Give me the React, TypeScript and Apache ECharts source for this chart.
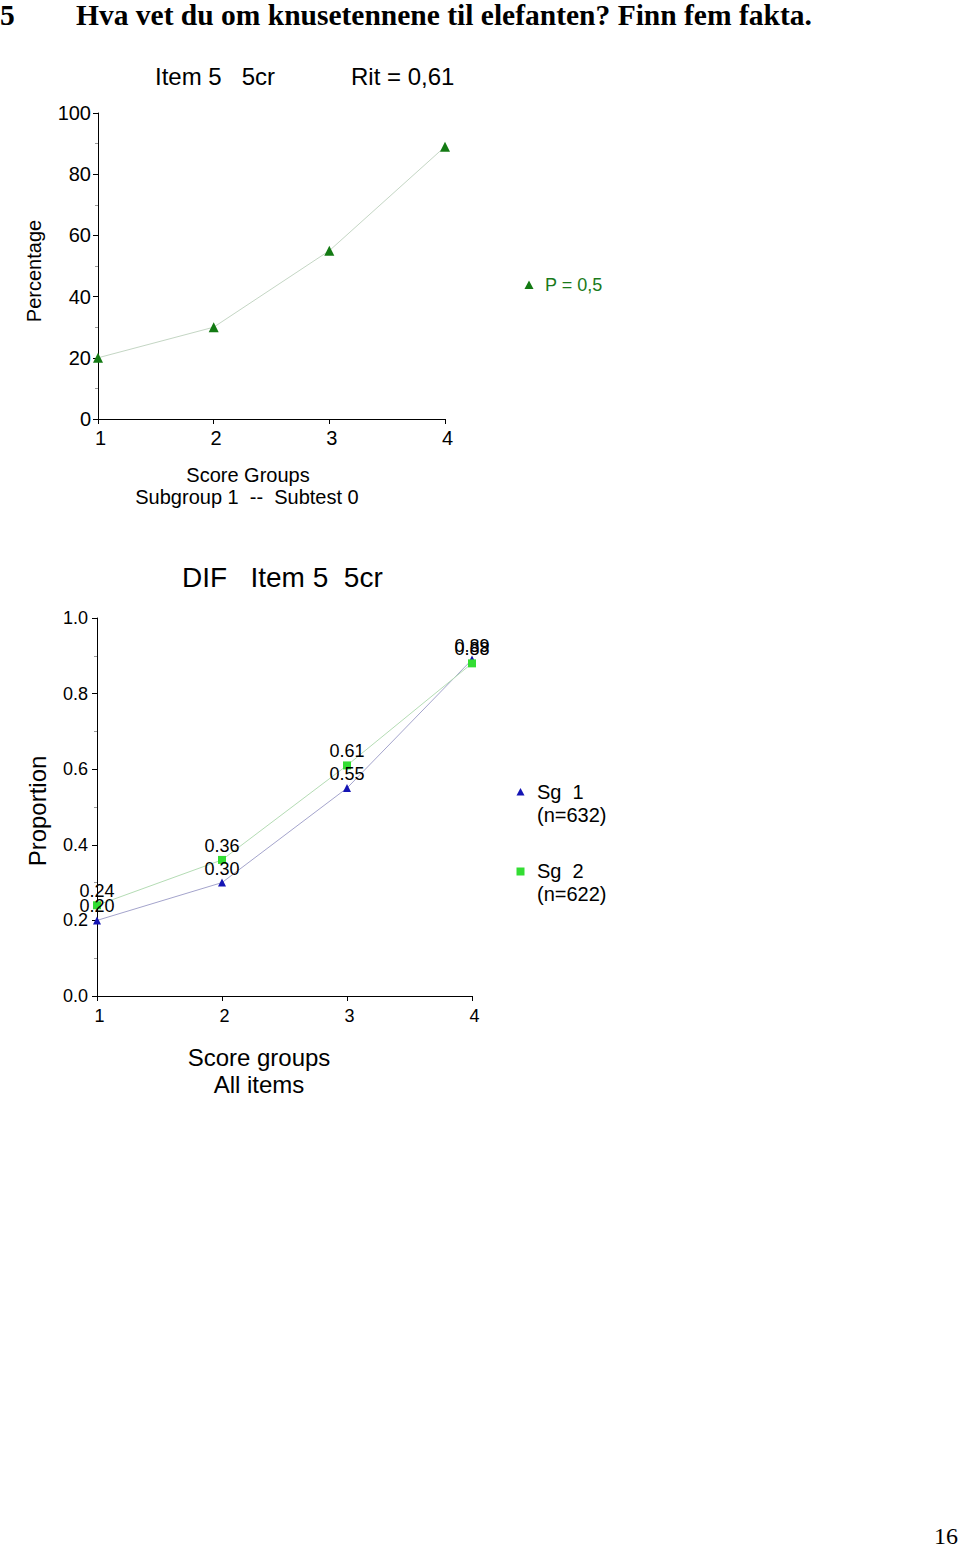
import React, { useEffect, useRef } from "react";
import * as echarts from "echarts";

const scoreGroups = [1, 2, 3, 4];
const percentSg1 = [20, 30, 55, 89];
const propSg1 = [0.2, 0.3, 0.55, 0.89];
const propSg2 = [0.24, 0.36, 0.61, 0.88];
const topYTicks = [0, 20, 40, 60, 80, 100];
const bottomYTicks = [0, 0.2, 0.4, 0.6, 0.8, 1.0];

const SANS = "Liberation Sans, Arial, Helvetica, sans-serif";
const SERIF = "Liberation Serif, Times New Roman, serif";

export default function App() {
  const ref = useRef<HTMLDivElement>(null);
  useEffect(() => {
    if (!ref.current) return;
    const chart = echarts.init(ref.current, undefined, { renderer: "svg" });
    const axisCommon = {
      axisLine: { show: true, lineStyle: { color: "#000", width: 1 } },
      axisTick: { show: true, inside: false, length: 5, lineStyle: { color: "#000" } },
      splitLine: { show: false },
    };
    const pts = (ys: number[]) => scoreGroups.map((x, i) => [x, ys[i]]);
    chart.setOption({
      animation: false,
      backgroundColor: "#fff",
      grid: [
        { left: 98, top: 113, width: 347, height: 306 },
        { left: 97, top: 618, width: 375, height: 378 },
      ],
      xAxis: [
        {
          gridIndex: 0, type: "value", min: 1, max: 4, interval: 1, ...axisCommon,
          axisLabel: { fontFamily: SANS, fontSize: 20, color: "#000", margin: 9, padding: [0, 0, 0, 5] },
        },
        {
          gridIndex: 1, type: "value", min: 1, max: 4, interval: 1, ...axisCommon,
          axisLabel: { fontFamily: SANS, fontSize: 18, color: "#000", margin: 11, padding: [0, 0, 0, 5] },
        },
      ],
      yAxis: [
        {
          gridIndex: 0, type: "value", min: topYTicks[0], max: topYTicks[topYTicks.length - 1], interval: 20, ...axisCommon,
          minorTick: { show: true, splitNumber: 2, length: 3, lineStyle: { color: "#999" } },
          axisLabel: { fontFamily: SANS, fontSize: 20, color: "#000", margin: 7 },
        },
        {
          gridIndex: 1, type: "value", min: bottomYTicks[0], max: bottomYTicks[bottomYTicks.length - 1], interval: 0.2, ...axisCommon,
          minorTick: { show: true, splitNumber: 2, length: 3, lineStyle: { color: "#999" } },
          axisLabel: { fontFamily: SANS, fontSize: 18, color: "#000", margin: 9, formatter: (v: number) => v.toFixed(1) },
        },
      ],
      series: [
        {
          name: "P = 0,5", type: "line", xAxisIndex: 0, yAxisIndex: 0, data: pts(percentSg1), clip: false,
          symbol: "triangle", symbolSize: 10,
          itemStyle: { color: "#137a13" },
          lineStyle: { color: "#c4d6c4", width: 1 },
        },
        {
          name: "Sg 1", type: "line", xAxisIndex: 1, yAxisIndex: 1, data: pts(propSg1), clip: false,
          symbol: "triangle", symbolSize: 8,
          itemStyle: { color: "#1414b4" },
          lineStyle: { color: "#a4a4cc", width: 1 },
          label: { show: true, position: "top", distance: 1, fontFamily: SANS, fontSize: 18, color: "#000", formatter: (p: any) => p.value[1].toFixed(2) },
        },
        {
          name: "Sg 2", type: "line", xAxisIndex: 1, yAxisIndex: 1, data: pts(propSg2), clip: false,
          symbol: "rect", symbolSize: 8,
          itemStyle: { color: "#33dd33" },
          lineStyle: { color: "#b4dcb4", width: 1 },
          label: { show: true, position: "top", distance: 1, fontFamily: SANS, fontSize: 18, color: "#000", formatter: (p: any) => p.value[1].toFixed(2) },
        },
      ],
      graphic: [
        { type: "text", x: 0, y: 15, style: { text: "5", font: `bold 29.5px ${SERIF}`, fill: "#000", textVerticalAlign: "middle" } },
        { type: "text", x: 76, y: 15, style: { text: "Hva vet du om knusetennene til elefanten? Finn fem fakta.", font: `bold 29.5px ${SERIF}`, fill: "#000", textVerticalAlign: "middle" } },
        { type: "text", x: 155, y: 76, style: { text: "Item 5   5cr", font: `24px ${SANS}`, fill: "#000", textVerticalAlign: "middle" } },
        { type: "text", x: 351, y: 76, style: { text: "Rit = 0,61", font: `24px ${SANS}`, fill: "#000", textVerticalAlign: "middle" } },
        { type: "text", x: 34, y: 271, rotation: Math.PI / 2, style: { text: "Percentage", font: `20px ${SANS}`, fill: "#000", textAlign: "center", textVerticalAlign: "middle" } },
        { type: "polygon", shape: { points: [[529, 280.5], [533.5, 289], [524.5, 289]] }, style: { fill: "#137a13" } },
        { type: "text", x: 545, y: 285, style: { text: "P = 0,5", font: `18px ${SANS}`, fill: "#1a7a1a", textVerticalAlign: "middle" } },
        { type: "text", x: 248, y: 475, style: { text: "Score Groups", font: `20px ${SANS}`, fill: "#000", textAlign: "center", textVerticalAlign: "middle" } },
        { type: "text", x: 247, y: 497, style: { text: "Subgroup 1  --  Subtest 0", font: `20px ${SANS}`, fill: "#000", textAlign: "center", textVerticalAlign: "middle" } },
        { type: "text", x: 182, y: 577, style: { text: "DIF   Item 5  5cr", font: `28px ${SANS}`, fill: "#000", textVerticalAlign: "middle" } },
        { type: "text", x: 37, y: 811, rotation: Math.PI / 2, style: { text: "Proportion", font: `24px ${SANS}`, fill: "#000", textAlign: "center", textVerticalAlign: "middle" } },
        { type: "polygon", shape: { points: [[520.5, 788], [524.5, 795.5], [516.5, 795.5]] }, style: { fill: "#1414b4" } },
        { type: "text", x: 537, y: 792, style: { text: "Sg  1", font: `20px ${SANS}`, fill: "#000", textVerticalAlign: "middle" } },
        { type: "text", x: 537, y: 815, style: { text: "(n=632)", font: `20px ${SANS}`, fill: "#000", textVerticalAlign: "middle" } },
        { type: "rect", shape: { x: 516.5, y: 867.5, width: 8, height: 8 }, style: { fill: "#33dd33" } },
        { type: "text", x: 537, y: 871, style: { text: "Sg  2", font: `20px ${SANS}`, fill: "#000", textVerticalAlign: "middle" } },
        { type: "text", x: 537, y: 894, style: { text: "(n=622)", font: `20px ${SANS}`, fill: "#000", textVerticalAlign: "middle" } },
        { type: "text", x: 259, y: 1057, style: { text: "Score groups", font: `24px ${SANS}`, fill: "#000", textAlign: "center", textVerticalAlign: "middle" } },
        { type: "text", x: 259, y: 1084, style: { text: "All items", font: `24px ${SANS}`, fill: "#000", textAlign: "center", textVerticalAlign: "middle" } },
        { type: "text", x: 958, y: 1536, style: { text: "16", font: `24px ${SERIF}`, fill: "#000", textAlign: "right", textVerticalAlign: "middle" } },
      ],
    });
    return () => chart.dispose();
  }, []);
  return (
    <div
      ref={ref}
      style={{ position: "absolute", left: 0, top: 0, width: 960, height: 1550, background: "#fff" }}
    />
  );
}
